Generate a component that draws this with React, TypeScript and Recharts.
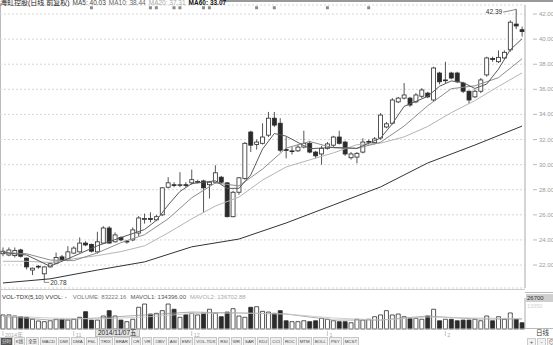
import React from 'react'
import { Bar, Cell, CartesianGrid, ComposedChart, Line, ReferenceDot, XAxis, YAxis } from 'recharts'

// daily candles (index 0..88)
const opens = [
  22.9, 22.8, 22.75, 23.2, 22.55, 21.6, 21.85, 21.3, 21.85, 22.15,
  22.65, 22.4, 22.95, 23.05, 23.75, 23.65, 23.05, 23.75, 24.95, 23.85,
  24.2, 23.85, 24.0, 24.55, 25.65, 25.7, 25.6, 26.0, 28.2, 28.4,
  28.35, 28.4, 28.55, 28.6, 28.7, 28.4, 28.6, 29.0, 28.55, 25.85,
  27.8, 28.9, 32.6, 31.6, 31.7, 32.35, 33.7, 33.3, 31.2, 31.05,
  31.1, 31.4, 31.7, 31.0, 30.85, 31.3, 31.55, 32.2, 31.8, 30.55,
  30.6, 31.0, 31.8, 31.75, 32.12, 33.0, 33.3, 35.0, 35.3, 35.3,
  35.0, 35.45, 35.7, 35.15, 37.3, 36.7, 37.3, 37.3, 36.5, 35.85,
  35.4, 35.85, 37.15, 38.45, 38.2, 38.5, 39.15, 41.2, 40.75,
]
const highs = [
  23.4, 23.4, 23.4, 23.3, 22.6, 21.8, 22.0, 21.9, 22.2, 23.0,
  22.8, 23.5, 23.5, 24.2, 23.9, 23.7, 24.65, 25.1, 25.1, 24.6,
  24.3, 24.0, 25.0, 25.9, 26.1, 26.2, 26.0, 28.2, 29.0, 28.6,
  29.4, 28.6, 29.6, 28.8, 28.8, 28.7, 29.95, 29.1, 28.6, 27.9,
  29.0, 31.8, 32.7, 32.0, 33.3, 34.2, 34.2, 33.7, 32.2, 31.4,
  31.6, 32.7, 31.9, 31.1, 31.5, 31.8, 32.3, 32.7, 31.9, 31.0,
  31.0, 32.1, 32.0, 32.2, 34.1, 33.4, 35.3, 35.4, 36.5, 35.4,
  35.7, 36.1, 35.8, 37.8, 37.4, 38.2, 37.4, 37.4, 36.6, 35.9,
  36.0, 36.9, 38.6, 38.6, 39.1, 39.1, 41.5, 42.39, 41.0,
]
const lows = [
  22.7, 22.7, 22.6, 22.6, 21.65, 21.2, 21.7, 20.78, 21.8, 22.1,
  22.3, 22.3, 22.9, 23.0, 23.5, 23.0, 22.9, 23.7, 23.7, 23.8,
  23.9, 23.7, 23.9, 24.3, 25.3, 25.4, 25.5, 25.9, 28.1, 28.2,
  28.2, 28.2, 28.4, 28.5, 26.15, 27.3, 28.5, 28.5, 25.8, 25.8,
  27.6, 28.8, 31.0, 31.2, 31.6, 32.2, 33.0, 31.0, 30.5, 30.8,
  31.0, 31.3, 30.9, 30.5, 30.0, 31.2, 31.4, 31.6, 30.7, 30.4,
  30.1, 30.9, 31.6, 31.6, 32.0, 32.9, 33.2, 34.9, 35.2, 34.6,
  34.9, 35.3, 35.3, 35.0, 36.4, 36.5, 36.8, 36.5, 35.7, 34.85,
  35.3, 35.7, 37.0, 38.2, 38.1, 38.4, 39.0, 40.8, 40.2,
]
const closes = [
  23.1, 23.2, 23.15, 22.7, 21.85, 21.75, 21.9, 21.85, 22.1, 22.6,
  22.4, 23.05, 23.35, 23.75, 23.6, 23.1, 23.85, 24.95, 23.75, 24.4,
  24.0, 23.9, 24.8, 25.75, 25.7, 25.65, 25.85, 28.15, 28.55, 28.35,
  28.4, 28.35, 28.8, 28.65, 28.15, 28.6, 29.35, 28.6, 25.85, 27.8,
  28.95, 31.7, 31.55, 31.8, 32.2, 33.7, 33.15, 31.15, 31.15, 31.1,
  31.4, 31.7, 31.0, 30.7, 31.3, 31.65, 32.2, 31.7, 30.85, 30.85,
  30.9, 31.8, 31.85, 32.05, 33.95, 33.25, 35.15, 35.3, 35.55, 34.75,
  35.55, 35.95, 35.4, 37.7, 36.6, 36.75, 36.9, 36.6, 35.85, 35.15,
  35.85, 36.75, 38.5, 38.4, 38.55, 38.95, 41.35, 41.05, 40.6,
]
const volumes = [
  12100, 12100, 11200, 10600, 10100, 8400, 6900, 6300, 7100, 8400,
  8400, 7700, 8400, 10100, 14900, 7700, 7700, 11200, 15800, 11200,
  7700, 6300, 8400, 18700, 21500, 12900, 13500, 15800, 21500, 17000,
  10100, 12300, 13500, 12100, 13500, 17000, 13500, 10600, 14600, 17500,
  11200, 10100, 18700, 19200, 15200, 14600, 13500, 15800, 7100, 6300,
  6300, 7100, 6300, 7100, 9200, 8400, 7100, 6300, 6300, 5400,
  8400, 7700, 8400, 10600, 12100, 15800, 12100, 12900, 10600, 9200,
  9200, 8400, 11200, 17000, 7100, 8400, 8400, 7100, 7700, 7700,
  8400, 7100, 11200, 7100, 10600, 8400, 13800, 8400, 5400,
]

// moving-average lines, read at sampled candles
const ma5Idx = [0, 4, 8, 12, 16, 20, 24, 26, 28, 30, 32, 36, 38, 40, 42, 44, 46, 48, 52, 56, 60, 64, 66, 68, 72, 74, 76, 78, 80, 82, 84, 86, 88]
const ma5Val = [23.0, 22.8, 21.9, 22.7, 23.53, 24.19, 24.83, 25.55, 26.78, 27.86, 28.49, 28.71, 28.11, 28.11, 29.17, 31.24, 32.48, 32.27, 31.27, 31.37, 31.3, 32.11, 33.25, 34.64, 35.44, 36.24, 36.67, 36.54, 36.07, 36.42, 37.61, 39.15, 40.03]
const maIdx = [0, 4, 8, 12, 16, 20, 24, 28, 32, 36, 40, 44, 48, 52, 56, 60, 64, 68, 72, 76, 80, 84, 88]
const ma10Val = [23.0, 22.9, 22.4, 22.35, 22.97, 23.78, 24.42, 25.68, 27.36, 28.54, 28.31, 29.64, 31.32, 31.84, 31.34, 31.29, 31.78, 33.07, 34.69, 36.05, 36.28, 36.93, 38.44]
const ma20Val = [22.3, 22.3, 22.2, 22.5, 22.75, 23.07, 23.53, 24.56, 25.68, 26.7, 27.41, 28.77, 29.81, 30.38, 30.93, 31.59, 31.71, 32.21, 33.04, 34.14, 35.1, 36.23, 37.31]
const ma60Idx = [0, 8, 16, 24, 32, 40, 48, 56, 64, 72, 80, 88]
const ma60Val = [20.57, 20.9, 21.6, 22.25, 23.45, 24.07, 25.35, 26.78, 28.22, 30.13, 31.56, 33.07]
const mavol1Val = [10800, 7700, 9500, 12100, 14600, 13800, 12900, 7700, 7700, 11200, 8600, 8600]
const mavol2Val = [11200, 9500, 8600, 10300, 13300, 13800, 12900, 9500, 7700, 10300, 9500, 9000]

const priceTicks = [22, 24, 26, 28, 30, 32, 34, 36, 38, 40, 42]
const markIdx = [15, 25, 26, 29, 30, 34, 35, 43, 46, 55, 62]
const markLevel = 42.5
const dateTickIdx = [0, 12, 32, 55, 75]
const dateTickLabels = ['2014年', '11', '12', '1', '2']
const tabs = ['分时', 'K线', '全景', 'MACD', 'DMI', 'DMA', 'FSL', 'TRIX', 'BRAR', 'CR', 'VR', 'OBV', 'ASI', 'EMV', 'VOL-TDX', 'RSI', 'WR', 'SAR', 'KDJ', 'CCI', 'ROC', 'MTM', 'BOLL', 'PSY', 'MCST']

const pick = (idx: number[], vals: number[], i: number) => {
  const k = idx.indexOf(i)
  return k >= 0 ? vals[k] : null
}

const rows = opens.map((open, i) => ({
  i,
  range: [lows[i], highs[i]],
  open,
  close: closes[i],
  high: highs[i],
  low: lows[i],
  vol: volumes[i],
  ma5: pick(ma5Idx, ma5Val, i),
  ma10: pick(maIdx, ma10Val, i),
  ma20: pick(maIdx, ma20Val, i),
  ma60: pick(ma60Idx, ma60Val, i),
  mv1: pick(ma60Idx, mavol1Val, i),
  mv2: pick(ma60Idx, mavol2Val, i),
  mark: markIdx.includes(i) ? markLevel : null,
}))

const INK = '#2b2b2b'
const FONT = '"Liberation Sans", "Noto Sans CJK SC", sans-serif'

function Candle(props: any) {
  const { x, y, width, height, payload } = props
  if (x == null || y == null) return <g />
  const yTop = Math.min(y, y + height)
  const h = Math.abs(height)
  const ppu = h / (payload.high - payload.low || 1)
  const cx = x + width / 2
  const top = yTop + (payload.high - Math.max(payload.open, payload.close)) * ppu
  const bottom = yTop + (payload.high - Math.min(payload.open, payload.close)) * ppu
  const up = payload.close >= payload.open
  return (
    <g>
      <line x1={cx} x2={cx} y1={yTop} y2={yTop + h} stroke={INK} strokeWidth={0.8} />
      <rect
        x={cx - 2}
        y={top}
        width={4}
        height={Math.max(bottom - top, 0.8)}
        fill={up ? '#fff' : INK}
        stroke={INK}
        strokeWidth={0.8}
      />
    </g>
  )
}

function PriceTick(props: any) {
  const { x, y, payload } = props
  return (
    <g>
      <line x1={x + 6} x2={x + 10} y1={y} y2={y} stroke="#aaa" strokeWidth={0.8} />
      <text x={x + 12} y={y + 2} fontSize={6} fill="#9a9a9a" fontFamily={FONT}>
        {payload.value.toFixed(2)}
      </text>
    </g>
  )
}

function DateTick(props: any) {
  const { x, y, payload } = props
  const k = dateTickIdx.indexOf(payload.value)
  return (
    <g>
      <line x1={x} x2={x} y1={y} y2={y + 5} stroke="#bbb" strokeWidth={0.8} />
      <text x={x + 2} y={y + 6} fontSize={5.5} fill="#aaa" fontFamily={FONT}>
        {dateTickLabels[k]}
      </text>
    </g>
  )
}

function MarkDot(props: any) {
  const { cx, cy, payload, index } = props
  if (payload.mark == null || cy == null) return <g key={index} />
  return <rect key={index} x={cx - 1.5} y={cy - 1.5} width={3} height={3} fill="#8a8a8a" />
}

function HighLabel(props: any) {
  const { viewBox } = props
  const { x, y } = viewBox
  return (
    <g>
      <polyline points={`${x - 13},${y + 3} ${x - 3},${y + 1} ${x},${y}`} fill="none" stroke="#555" strokeWidth={0.7} />
      <text x={x - 14} y={y + 5} fontSize={6.5} fill="#333" textAnchor="end" fontFamily={FONT}>42.39</text>
    </g>
  )
}

function LowLabel(props: any) {
  const { viewBox } = props
  const { x, y } = viewBox
  return (
    <g>
      <polyline points={`${x},${y} ${x},${y + 2} ${x + 5},${y + 2}`} fill="none" stroke="#555" strokeWidth={0.7} />
      <text x={x + 6} y={y + 4.5} fontSize={6.5} fill="#333" fontFamily={FONT}>20.78</text>
    </g>
  )
}

export default function App() {
  return (
    <div style={{ position: 'absolute', left: 0, top: 0, width: 553, height: 345, background: '#fff', overflow: 'hidden', fontFamily: FONT }}>
      <div style={{ position: 'absolute', left: 222, top: 0, width: 331, height: 2, background: '#999' }} />
      <div style={{ position: 'absolute', left: 0, top: 3, width: 1, height: 326, background: '#bbb' }} />

      <div style={{ position: 'absolute', left: 0, top: 0, height: 290 }}>
        <ComposedChart width={553} height={290} data={rows} margin={{ top: 5, right: 0, left: 0, bottom: 2 }}>
          <CartesianGrid horizontal vertical={false} stroke="#d6d6d6" strokeDasharray="2 2" />
          <XAxis dataKey="i" hide />
          <YAxis
            orientation="right"
            width={28}
            domain={[20.17, 42.72]}
            ticks={priceTicks}
            tickLine={false}
            tickSize={0}
            axisLine={{ stroke: '#aaa' }}
            tick={<PriceTick />}
          />
          <Line dataKey="ma60" stroke="#333" strokeWidth={1} dot={false} connectNulls isAnimationActive={false} />
          <Line dataKey="ma20" stroke="#b5b5b5" strokeWidth={1} dot={false} connectNulls isAnimationActive={false} />
          <Line dataKey="ma10" stroke="#8c8c8c" strokeWidth={1} dot={false} connectNulls isAnimationActive={false} />
          <Line dataKey="ma5" stroke="#5a5a5a" strokeWidth={1} dot={false} connectNulls isAnimationActive={false} />
          <Bar dataKey="range" barSize={4} shape={<Candle />} isAnimationActive={false} />
          <Line dataKey="mark" stroke="none" dot={<MarkDot />} activeDot={false} isAnimationActive={false} />
          <ReferenceDot x={87} y={42.39} r={0} label={<HighLabel />} />
          <ReferenceDot x={7} y={20.78} r={0} label={<LowLabel />} />
        </ComposedChart>
      </div>

      <div style={{ position: 'absolute', left: 0, top: -2, whiteSpace: 'nowrap', fontSize: 6.5, lineHeight: '9px' }}>
        <span style={{ color: '#222', fontSize: 7 }}>海虹控股(日线 前复权)</span>
        <span style={{ color: '#444', marginLeft: 3 }}>MA5: 40.03</span>
        <span style={{ color: '#666', marginLeft: 3 }}>MA10: 38.44</span>
        <span style={{ color: '#aaa', marginLeft: 3 }}>MA20: 37.31</span>
        <span style={{ color: '#111', marginLeft: 3, fontWeight: 700 }}>MA60: 33.07</span>
      </div>

      <div style={{ position: 'absolute', left: 0, top: 289, width: 525, height: 1, background: '#ccc' }} />
      <div style={{ position: 'absolute', left: 2, top: 293, whiteSpace: 'nowrap', fontSize: 6, lineHeight: '8px' }}>
        <span style={{ color: '#333' }}>VOL-TDX(5,10) VVOL: -</span>
        <span style={{ color: '#777', marginLeft: 6 }}>VOLUME: 83222.16</span>
        <span style={{ color: '#555', marginLeft: 4 }}>MAVOL1: 134396.00</span>
        <span style={{ color: '#aaa', marginLeft: 4 }}>MAVOL2: 136702.88</span>
      </div>

      <div style={{ position: 'absolute', left: 0, top: 290, height: 50 }}>
        <ComposedChart width={553} height={50} data={rows} margin={{ top: 8, right: 0, left: 0, bottom: 3 }}>
          <XAxis
            dataKey="i"
            height={8}
            ticks={dateTickIdx}
            interval={0}
            tickLine={false}
            tickSize={0}
            axisLine={{ stroke: '#bbb' }}
            tick={<DateTick />}
          />
          <YAxis orientation="right" width={28} domain={[0, 26700]} tick={false} tickLine={false} axisLine={{ stroke: '#aaa' }} />
          <Bar dataKey="vol" barSize={4} isAnimationActive={false}>
            {rows.map((r) => (
              <Cell
                key={r.i}
                fill={r.close >= r.open ? '#fff' : INK}
                stroke={INK}
                strokeWidth={0.8}
              />
            ))}
          </Bar>
          <Line dataKey="mv1" stroke="#999" strokeWidth={0.8} dot={false} connectNulls isAnimationActive={false} />
          <Line dataKey="mv2" stroke="#c4c4c4" strokeWidth={0.8} dot={false} connectNulls isAnimationActive={false} />
        </ComposedChart>
      </div>

      <div style={{ position: 'absolute', left: 95, top: 329, padding: '0 2px', background: '#e4e4e4', border: '1px solid #bbb', fontSize: 6.5, lineHeight: '6px', color: '#222', whiteSpace: 'nowrap' }}>
        2014/11/07五
      </div>

      <div style={{ position: 'absolute', left: 525, top: 292, width: 28, height: 1, background: '#bbb' }} />
      <div style={{ position: 'absolute', left: 526, top: 294, width: 27, height: 8, background: '#cfcfcf', fontSize: 6, lineHeight: '8px', color: '#333', paddingLeft: 1 }}>26700</div>
      <div style={{ position: 'absolute', left: 527, top: 303, fontSize: 5.5, lineHeight: '7px', color: '#d0d0d0' }}>13350</div>
      <div style={{ position: 'absolute', left: 525, top: 328, width: 28, height: 1, background: '#bbb' }} />
      <div style={{ position: 'absolute', left: 536, top: 329, fontSize: 6.5, lineHeight: '8px', color: '#333' }}>日线</div>
      <div style={{ position: 'absolute', left: 527, top: 338, display: 'flex', gap: 1, fontSize: 6, lineHeight: '7px', color: '#555' }}>
        {['+', '-', '⊙'].map((s) => (
          <span key={s} style={{ width: 7, textAlign: 'center', border: '1px solid #ccc', background: '#f2f2f2' }}>{s}</span>
        ))}
      </div>

      <div style={{ position: 'absolute', left: 0, top: 337, display: 'flex', whiteSpace: 'nowrap' }}>
        {tabs.map((t, k) => (
          <span
            key={t}
            style={{
              fontSize: 4.4,
              lineHeight: '7px',
              padding: '0 1px',
              marginRight: 1,
              border: '1px solid #c8c8c8',
              background: k === 0 ? '#555' : '#efefef',
              color: k === 0 ? '#eee' : '#444',
            }}
          >
            {t}
          </span>
        ))}
      </div>
    </div>
  )
}
